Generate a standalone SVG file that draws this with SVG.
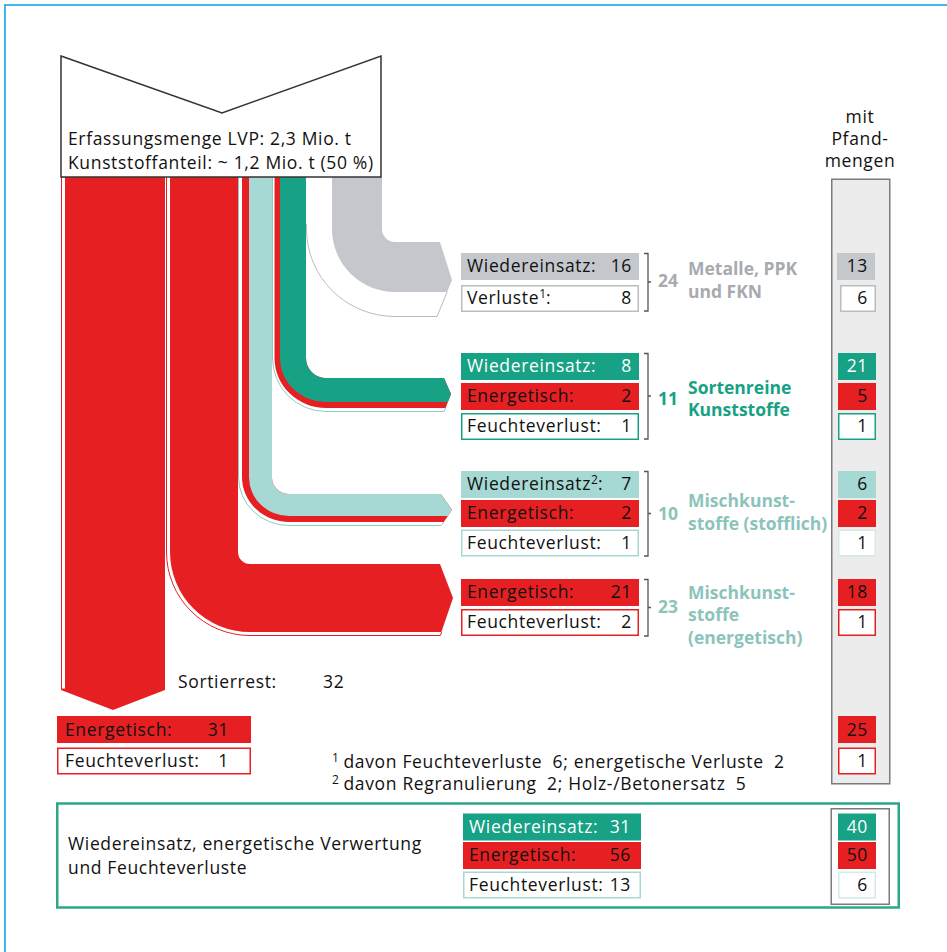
<svg xmlns="http://www.w3.org/2000/svg" width="947" height="952" viewBox="0 0 947 952">
<defs>
<style>
.t{font-family:"Open Sans","Noto Sans","DejaVu Sans",sans-serif;font-size:17.5px;letter-spacing:0.65px;fill:#111111}
.b{font-weight:bold;letter-spacing:0}
.e{text-anchor:end}
.sup{font-size:12px;letter-spacing:0}
.wt{fill:#ffffff}
.cg{fill:#a7aaaf}
.cn{fill:#17a185}
.cl{fill:#8cc3bb}
.fr{fill:#e62022}
.fn{fill:#17a185}
.fl{fill:#a6d9d3}
.fy{fill:#c4c7cc}
.ow{fill:#ffffff;stroke-width:1.5}
.br{fill:none;stroke:#555555;stroke-width:1.3}
.ol{fill:none;stroke-width:1}
</style>
</defs>
<rect x="0" y="0" width="947" height="952" fill="#ffffff"/>
<path d="M5,952 V5 H947" fill="none" stroke="#41b8e9" stroke-width="2"/>

<g id="connectors">
  <g id="flow-sortierrest">
    <path class="fr" d="M61,177 L165,177 L165,690 L113,710 L61,690 Z"/>
    <rect x="61.5" y="177" width="4" height="512" fill="#ffffff" stroke="#e62022" stroke-width="1"/>
  </g>
  <g id="flow-misch-energetisch">
    <path fill="#ffffff" d="M166,177 L166,552 A84,84 0 0 0 250,636 L440,636 L453,598 L440,564 L250,564 A12,12 0 0 1 238,552 L238,177 Z"/>
    <path class="fr" d="M170,177 L170,552 A80,80 0 0 0 250,632 L441.4,632 L453,598 L440,564 L250,564 A12,12 0 0 1 238,552 L238,177 Z"/>
    <path class="ol" stroke="#e62022" d="M166.5,177 L166.5,552 A83.5,83.5 0 0 0 250,635.5 L440.3,635.5 L441.6,632"/>
  </g>
  <g id="flow-misch-stofflich">
    <path fill="#ffffff" d="M238.5,177 L238.5,477 A50.5,49 0 0 0 289,526 L441,526 L452,510 L441,494 L289,494 A17,16 0 0 1 272,478 L272,177 Z"/>
    <path class="fr" d="M242,177 L242,477 A47,45 0 0 0 289,522 L443.8,522 L452,510 L441,494 L289,494 A17,16 0 0 1 272,478 L272,177 Z"/>
    <path class="fl" d="M249,177 L249,477 A40,39 0 0 0 289,516 L447.9,516 L452,510 L441,494 L289,494 A17,16 0 0 1 272,478 L272,177 Z"/>
    <path class="ol" stroke="#8fcac2" d="M238.5,177 L238.5,477 A50.5,48.5 0 0 0 289,525.5 L441,525.5 L443.8,522"/>
  </g>
  <g id="flow-sortenrein">
    <path fill="#ffffff" d="M272.5,177 L272.5,358 A53.5,54 0 0 0 326,412 L444,412 L451,394 L444,378 L326,378 A20,20 0 0 1 306,358 L306,177 Z"/>
    <path class="fr" d="M274.5,177 L274.5,358 A51.5,50 0 0 0 326,408 L445.6,408 L451,394 L444,378 L326,378 A20,20 0 0 1 306,358 L306,177 Z"/>
    <path class="fn" d="M280,177 L280,358 A46,44 0 0 0 326,402 L447.9,402 L451,394 L444,378 L326,378 A20,20 0 0 1 306,358 L306,177 Z"/>
    <path class="ol" stroke="#8fcac2" d="M272.5,177 L272.5,358 A53.5,53.5 0 0 0 326,411.5 L444,411.5 L445.6,408"/>
  </g>
  <g id="flow-metalle">
    <path fill="#ffffff" d="M306,177 L306,229 A89,88 0 0 0 395,317 L437,317 L452,280 L440,242 L395,242 A13,13 0 0 1 382,229 L382,177 Z"/>
    <path class="fy" d="M332,177 L332,229 A63,63 0 0 0 395,292 L447.1,292 L452,280 L440,242 L395,242 A13,13 0 0 1 382,229 L382,177 Z"/>
    <path class="ol" stroke="#b9bcc1" d="M306.5,224 L306.5,229 A88.5,87.5 0 0 0 395,316.5 L437,316.5 L447.1,292"/>
  </g>
</g>

<g id="funnel">
  <path d="M61,56 L222,113 L381,56 L381,177 L61,177 Z" fill="#ffffff" stroke="#333333" stroke-width="1.5" stroke-linejoin="miter"/>
  <text class="t" x="68" y="145">Erfassungsmenge LVP: 2,3 Mio. t</text>
  <text class="t" x="68" y="168.5">Kunststoffanteil: ~ 1,2 Mio. t (50 %)</text>
</g>

<g id="pfand-column">
  <rect x="831.75" y="179.25" width="58" height="604.5" fill="#ececec" stroke="#7b7b7b" stroke-width="1.5"/>
  <text class="t" x="860" y="123" text-anchor="middle">mit</text>
  <text class="t" x="860" y="145" text-anchor="middle">Pfand-</text>
  <text class="t" x="860" y="167" text-anchor="middle">mengen</text>
</g>

<g id="metalle">
  <rect class="fy" x="461" y="253" width="178" height="27"/>
  <text class="t" x="467" y="272">Wiedereinsatz:</text>
  <text class="t e" x="632" y="272">16</text>
  <rect class="ow" x="461.75" y="285.75" width="176.5" height="25.5" stroke="#b9bcc1"/>
  <text class="t" x="467" y="304">Verluste<tspan class="sup" dy="-6">1</tspan><tspan dy="6">:</tspan></text>
  <text class="t e" x="632" y="304">8</text>
  <path class="br" d="M644,253.5 H648 V311 H644 M648,282 H651"/>
  <text class="t b cg" x="658" y="287">24</text>
  <text class="t b cg" x="688" y="275">Metalle, PPK</text>
  <text class="t b cg" x="688" y="297.5">und FKN</text>
  <rect class="fy" x="837" y="253" width="38" height="27"/>
  <text class="t e" x="868" y="272">13</text>
  <rect class="ow" x="840.75" y="285.75" width="34.5" height="25.5" stroke="#b9bcc1"/>
  <text class="t e" x="868" y="304">6</text>
</g>

<g id="sortenrein">
  <rect class="fn" x="461" y="353" width="178" height="27"/>
  <text class="t wt" x="467" y="372">Wiedereinsatz:</text>
  <text class="t e wt" x="632" y="372">8</text>
  <rect class="fr" x="461" y="383" width="178" height="27"/>
  <text class="t" x="467" y="402">Energetisch:</text>
  <text class="t e" x="632" y="402">2</text>
  <rect class="ow" x="461.75" y="413.75" width="176.5" height="25.5" stroke="#17a185"/>
  <text class="t" x="467" y="432">Feuchteverlust:</text>
  <text class="t e" x="632" y="432">1</text>
  <path class="br" d="M644,353.5 H648 V439 H644 M648,396 H651"/>
  <text class="t b cn" x="658" y="405">11</text>
  <text class="t b cn" x="688" y="393.5">Sortenreine</text>
  <text class="t b cn" x="688" y="416">Kunststoffe</text>
  <rect class="fn" x="838" y="353" width="38" height="27"/>
  <text class="t e wt" x="868" y="372">21</text>
  <rect class="fr" x="838" y="383" width="38" height="27"/>
  <text class="t e" x="868" y="402">5</text>
  <rect class="ow" x="838.75" y="413.75" width="36.5" height="25.5" stroke="#17a185"/>
  <text class="t e" x="868" y="432">1</text>
</g>

<g id="misch-stofflich">
  <rect class="fl" x="461" y="471" width="178" height="27"/>
  <text class="t" x="467" y="490">Wiedereinsatz<tspan class="sup" dy="-6">2</tspan><tspan dy="6">:</tspan></text>
  <text class="t e" x="632" y="490">7</text>
  <rect class="fr" x="461" y="500" width="178" height="27"/>
  <text class="t" x="467" y="519">Energetisch:</text>
  <text class="t e" x="632" y="519">2</text>
  <rect class="ow" x="461.75" y="530.25" width="176.5" height="25.5" stroke="#a6d9d3"/>
  <text class="t" x="467" y="548.5">Feuchteverlust:</text>
  <text class="t e" x="632" y="548.5">1</text>
  <path class="br" d="M644,471.5 H648 V556 H644 M648,513.5 H651"/>
  <text class="t b cl" x="658" y="519.5">10</text>
  <text class="t b cl" x="688" y="507">Mischkunst-</text>
  <text class="t b cl" x="688" y="530">stoffe (stofflich)</text>
  <rect class="fl" x="838" y="471" width="38" height="27"/>
  <text class="t e" x="868" y="490">6</text>
  <rect class="fr" x="838" y="500" width="38" height="27"/>
  <text class="t e" x="868" y="519">2</text>
  <rect class="ow" x="838.75" y="530.25" width="36.5" height="25.5" stroke="#d2ebe7"/>
  <text class="t e" x="868" y="548.5">1</text>
</g>

<g id="misch-energetisch">
  <rect class="fr" x="461" y="579" width="178" height="27"/>
  <text class="t" x="467" y="598">Energetisch:</text>
  <text class="t e" x="632" y="598">21</text>
  <rect class="ow" x="461.75" y="609.75" width="176.5" height="25.5" stroke="#e62022"/>
  <text class="t" x="467" y="628">Feuchteverlust:</text>
  <text class="t e" x="632" y="628">2</text>
  <path class="br" d="M644,579.5 H648 V636 H644 M648,607.5 H651"/>
  <text class="t b cl" x="658" y="613">23</text>
  <text class="t b cl" x="688" y="598.5">Mischkunst-</text>
  <text class="t b cl" x="688" y="621">stoffe</text>
  <text class="t b cl" x="688" y="643.5">(energetisch)</text>
  <rect class="fr" x="838" y="579" width="38" height="27"/>
  <text class="t e" x="868" y="598">18</text>
  <rect class="ow" x="838.75" y="609.75" width="36.5" height="25.5" stroke="#e62022"/>
  <text class="t e" x="868" y="628">1</text>
</g>

<g id="sortierrest">
  <text class="t" x="178" y="688">Sortierrest:</text>
  <text class="t" x="323" y="688">32</text>
  <rect class="fr" x="57" y="716" width="194" height="27"/>
  <text class="t" x="65" y="735.5">Energetisch:</text>
  <text class="t e" x="229" y="735.5">31</text>
  <rect class="ow" x="57.75" y="748.25" width="192.5" height="25.5" stroke="#e62022"/>
  <text class="t" x="65" y="766.5">Feuchteverlust:</text>
  <text class="t e" x="229" y="766.5">1</text>
  <rect class="fr" x="838" y="716" width="38" height="27"/>
  <text class="t e" x="868" y="735.5">25</text>
  <rect class="ow" x="838.75" y="748.25" width="36.5" height="25.5" stroke="#e62022"/>
  <text class="t e" x="868" y="766.5">1</text>
</g>

<g id="footnotes">
  <text class="t sup" x="332" y="762">1</text>
  <text class="t" x="343.5" y="768" xml:space="preserve">davon Feuchteverluste  6; energetische Verluste  2</text>
  <text class="t sup" x="332" y="784">2</text>
  <text class="t" x="343.5" y="790" xml:space="preserve">davon Regranulierung  2; Holz-/Betonersatz  5</text>
</g>

<g id="summary">
  <rect x="57.25" y="803.5" width="841.5" height="104" fill="#ffffff" stroke="#2aa887" stroke-width="2.5"/>
  <text class="t" x="68" y="849.5">Wiedereinsatz, energetische Verwertung</text>
  <text class="t" x="68" y="873.5">und Feuchteverluste</text>
  <rect class="fn" x="463" y="813.5" width="178" height="27"/>
  <text class="t wt" x="469" y="832.5">Wiedereinsatz:</text>
  <text class="t e wt" x="631" y="832.5">31</text>
  <rect class="fr" x="463" y="842" width="178" height="27"/>
  <text class="t" x="469" y="861">Energetisch:</text>
  <text class="t e" x="631" y="861">56</text>
  <rect class="ow" x="463.75" y="872.25" width="176.5" height="25.5" stroke="#a6d9d3"/>
  <text class="t" x="469" y="890.5">Feuchteverlust:</text>
  <text class="t e" x="631" y="890.5">13</text>
  <rect x="831.25" y="808.75" width="58" height="95.5" fill="#ffffff" stroke="#7b7b7b" stroke-width="1.5"/>
  <rect class="fn" x="838" y="813.5" width="38" height="27"/>
  <text class="t e wt" x="868" y="832.5">40</text>
  <rect class="fr" x="838" y="842" width="38" height="27"/>
  <text class="t e" x="868" y="861">50</text>
  <rect class="ow" x="838.75" y="872.25" width="36.5" height="25.5" stroke="#d2ebe7"/>
  <text class="t e" x="868" y="890.5">6</text>
</g>
</svg>
